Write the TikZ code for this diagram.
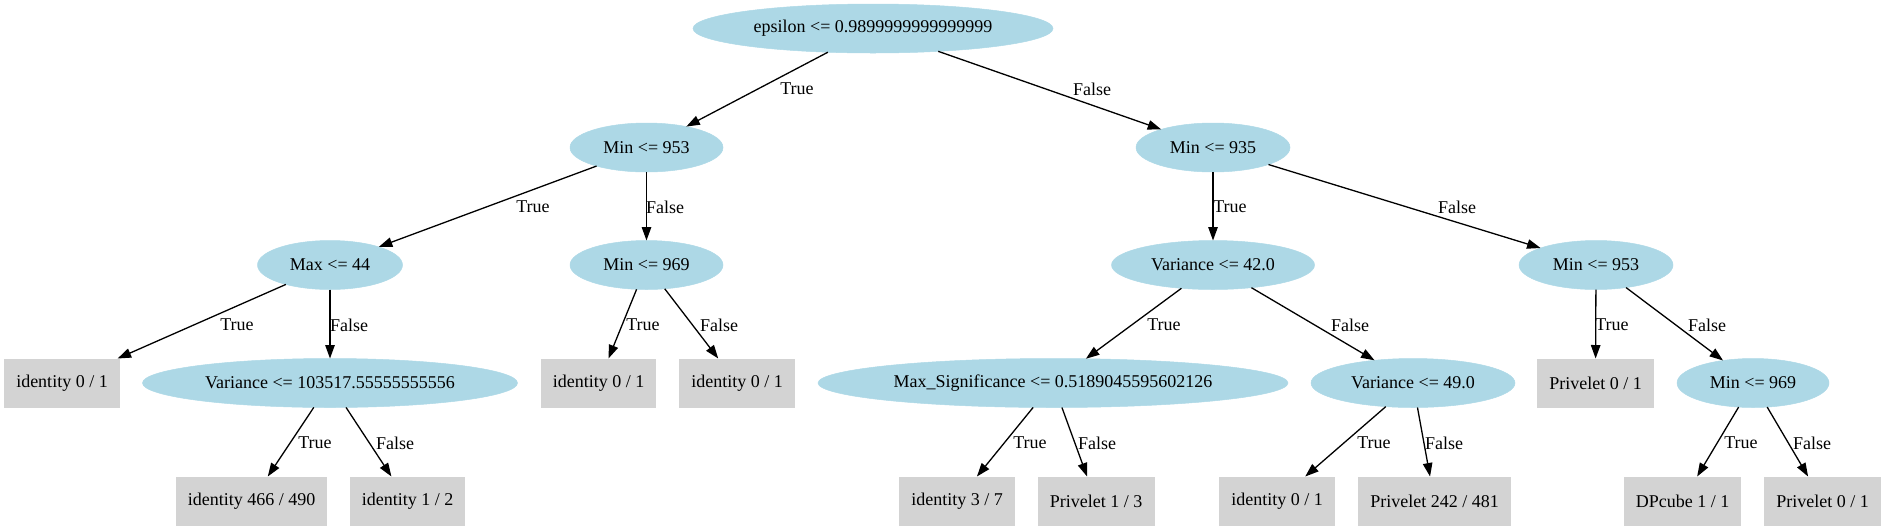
\documentclass[tikz,border=0pt]{standalone}
\usepackage{fontspec}
\setmainfont{Liberation Serif}
\usetikzlibrary{arrows.meta,shapes.geometric}
\definecolor{nodeblue}{RGB}{173,216,230}
\definecolor{leafgray}{RGB}{211,211,211}
\tikzset{
  base/.style={inner sep=0pt, outer sep=0pt, minimum height=49pt, font=\fontsize{18}{20}\selectfont},
  cond/.style={base, ellipse, fill=nodeblue, draw=nodeblue, line width=0.5pt},
  leaf/.style={base, rectangle, fill=leafgray},
  edge/.style={line width=1.3pt, -{Triangle[length=13.5pt,width=9.5pt]}},
  lbl/.style={inner sep=0pt, font=\fontsize{18}{20}\selectfont}
}
\begin{document}
\begin{tikzpicture}[x=1pt,y=-1pt]
\useasboundingbox (0,0) rectangle (1886,531);
% level 0
\node[cond, minimum width=360pt] (root) at (873,28.5) {epsilon <= 0.9899999999999999};
% level 1
\node[cond, minimum width=153pt] (n1) at (646.5,147.5) {Min <= 953};
\node[cond, minimum width=154pt] (n2) at (1213,147.5) {Min <= 935};
% level 2
\node[cond, minimum width=145pt] (n3) at (330,265) {Max <= 44};
\node[cond, minimum width=153pt] (n4) at (646.5,265) {Min <= 969};
\node[cond, minimum width=203pt] (n5) at (1213,265) {Variance <= 42.0};
\node[cond, minimum width=154pt] (n6) at (1596,265) {Min <= 953};
% level 3
\node[leaf, minimum width=116pt] (l1) at (62,383) {identity 0 / 1};
\node[cond, minimum width=375pt] (n7) at (330,383) {Variance <= 103517.55555555556};
\node[leaf, minimum width=115pt] (l2) at (598.5,383) {identity 0 / 1};
\node[leaf, minimum width=116pt] (l3) at (737,383) {identity 0 / 1};
\node[cond, minimum width=470pt] (n8) at (1053,383) {Max\_Significance <= 0.5189045595602126};
\node[cond, minimum width=204pt] (n9) at (1413,383) {Variance <= 49.0};
\node[leaf, minimum width=117pt] (l4) at (1595.5,383) {Privelet 0 / 1};
\node[cond, minimum width=152pt] (n10) at (1753,383) {Min <= 969};
% level 4
\node[leaf, minimum width=151pt] (l5) at (251.5,501) {identity 466 / 490};
\node[leaf, minimum width=115pt] (l6) at (407.5,501) {identity 1 / 2};
\node[leaf, minimum width=116pt] (l7) at (957,501) {identity 3 / 7};
\node[leaf, minimum width=117pt] (l8) at (1096,501) {Privelet 1 / 3};
\node[leaf, minimum width=116pt] (l9) at (1277,501) {identity 0 / 1};
\node[leaf, minimum width=153pt] (l10) at (1434.5,501) {Privelet 242 / 481};
\node[leaf, minimum width=117pt] (l11) at (1682.5,501) {DPcube 1 / 1};
\node[leaf, minimum width=117pt] (l12) at (1822.5,501) {Privelet 0 / 1};
% edges
\draw[edge] (root) -- (n1) node[lbl] at (797,89) {True};
\draw[edge] (root) -- (n2) node[lbl] at (1092,89) {False};
\draw[edge] (n1) -- (n3) node[lbl] at (533,207) {True};
\draw[edge] (n1) -- (n4) node[lbl] at (665,207) {False};
\draw[edge] (n2) -- (n5) node[lbl] at (1230,207) {True};
\draw[edge] (n2) -- (n6) node[lbl] at (1457,207) {False};
\draw[edge] (n3) -- (l1) node[lbl] at (237,325) {True};
\draw[edge] (n3) -- (n7) node[lbl] at (349,325) {False};
\draw[edge] (n4) -- (l2) node[lbl] at (643,325) {True};
\draw[edge] (n4) -- (l3) node[lbl] at (719,325) {False};
\draw[edge] (n5) -- (n8) node[lbl] at (1164,325) {True};
\draw[edge] (n5) -- (n9) node[lbl] at (1350,325) {False};
\draw[edge] (n6) -- (l4) node[lbl] at (1612,325) {True};
\draw[edge] (n6) -- (n10) node[lbl] at (1707,325) {False};
\draw[edge] (n7) -- (l5) node[lbl] at (315,443) {True};
\draw[edge] (n7) -- (l6) node[lbl] at (395,443) {False};
\draw[edge] (n8) -- (l7) node[lbl] at (1030,443) {True};
\draw[edge] (n8) -- (l8) node[lbl] at (1097,443) {False};
\draw[edge] (n9) -- (l9) node[lbl] at (1374,443) {True};
\draw[edge] (n9) -- (l10) node[lbl] at (1444,443) {False};
\draw[edge] (n10) -- (l11) node[lbl] at (1741,443) {True};
\draw[edge] (n10) -- (l12) node[lbl] at (1812,443) {False};
\end{tikzpicture}
\end{document}
